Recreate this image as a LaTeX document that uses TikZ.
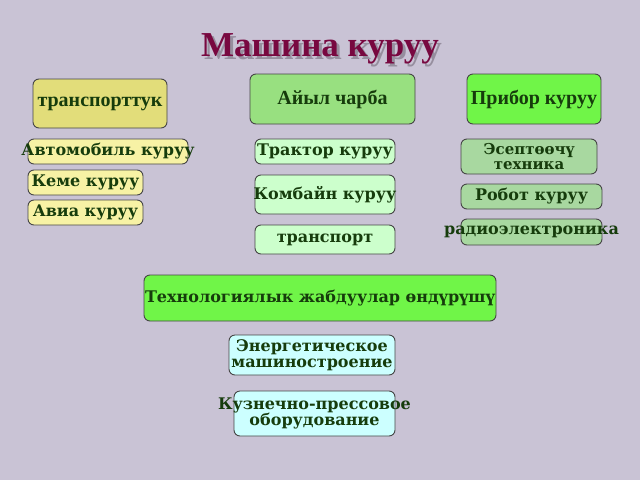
\documentclass[tikz,border=0pt]{standalone}
\usepackage{fontspec}
\setmainfont{DejaVu Serif}
\newfontfamily\timesf{Liberation Serif}
\definecolor{bgc}{RGB}{201,195,213}
\definecolor{txt}{RGB}{22,60,12}
\definecolor{ttl}{RGB}{120,8,64}
\definecolor{tsh}{RGB}{150,142,158}
\definecolor{cyel}{RGB}{226,221,122}
\definecolor{cgrn}{RGB}{152,224,128}
\definecolor{cbri}{RGB}{112,245,72}
\definecolor{cpy}{RGB}{247,242,165}
\definecolor{cpg}{RGB}{204,255,204}
\definecolor{cmg}{RGB}{168,216,160}
\definecolor{ccy}{RGB}{204,255,255}
\definecolor{bord}{RGB}{70,70,70}
\tikzset{
  bx/.style={draw=bord, line width=0.9pt, rounded corners=6pt, inner sep=0pt},
  lbl/.style={text=txt, font=\bfseries\fontsize{16}{16.5}\selectfont, align=center},
  tlbl/.style={text=txt, font=\timesf\bfseries\fontsize{20}{20}\selectfont, align=center},
}
\begin{document}
\begin{tikzpicture}[x=1pt,y=-1pt]
\fill[bgc] (0,0) rectangle (640,480);
\useasboundingbox (0,0) rectangle (640,480);
% title with shadow
\node[font=\timesf\bfseries\fontsize{35}{35}\selectfont, inner sep=0pt] (title) at (320,50)
  {\makebox[0pt][l]{\hspace{3pt}\raisebox{-3pt}{\textcolor{tsh}{Машина куруу}}}\textcolor{ttl}{Машина куруу}};
% top boxes
\node[bx, fill=cyel, minimum width=134, minimum height=49, label={[tlbl]center:транспорттук}] (trans) at (100,103.5) {};
\node[bx, fill=cgrn, minimum width=165, minimum height=50, label={[tlbl]center:Айыл чарба}] (ayil) at (332.5,99) {};
\node[bx, fill=cbri, minimum width=134, minimum height=50, label={[tlbl]center:Прибор куруу}] (pribor) at (534,99) {};
% left column
\node[bx, fill=cpy, minimum width=160, minimum height=25, label={[lbl]center:Автомобиль куруу}] (avto) at (108,151.5) {};
\node[bx, fill=cpy, minimum width=115, minimum height=25, label={[lbl]center:Кеме куруу}] (keme) at (85.5,182.5) {};
\node[bx, fill=cpy, minimum width=115, minimum height=25, label={[lbl]center:Авиа куруу}] (avia) at (85.5,212.5) {};
% middle column
\node[bx, fill=cpg, minimum width=140, minimum height=25, label={[lbl]center:Трактор куруу}] (traktor) at (325,151.5) {};
\node[bx, fill=cpg, minimum width=140, minimum height=39, label={[lbl]center:Комбайн куруу}] (kombayn) at (325,194.5) {};
\node[bx, fill=cpg, minimum width=140, minimum height=29, label={[lbl]center:транспорт}] (transport) at (325,239.5) {};
% right column
\node[bx, fill=cmg, minimum width=136, minimum height=35, label={[lbl, font=\bfseries\fontsize{15}{15.5}\selectfont]center:Эсептөөчү\\техника}] (esep) at (529,156.5) {};
\node[bx, fill=cmg, minimum width=141, minimum height=25, label={[lbl]center:Робот куруу}] (robot) at (531.5,196.5) {};
\node[bx, fill=cmg, minimum width=141, minimum height=26, label={[lbl]center:радиоэлектроника}] (radio) at (531.5,232) {};
% bottom
\node[bx, fill=cbri, minimum width=352, minimum height=46, label={[lbl]center:Технологиялык жабдуулар өндүрүшү}] (tehno) at (320,298) {};
\node[bx, fill=ccy, minimum width=166, minimum height=40, label={[lbl]center:Энергетическое\\машиностроение}] (energ) at (312,355) {};
\node[bx, fill=ccy, minimum width=161, minimum height=45, label={[lbl]center:Кузнечно-прессовое\\оборудование}] (kuz) at (314.5,413.5) {};
\end{tikzpicture}
\end{document}
